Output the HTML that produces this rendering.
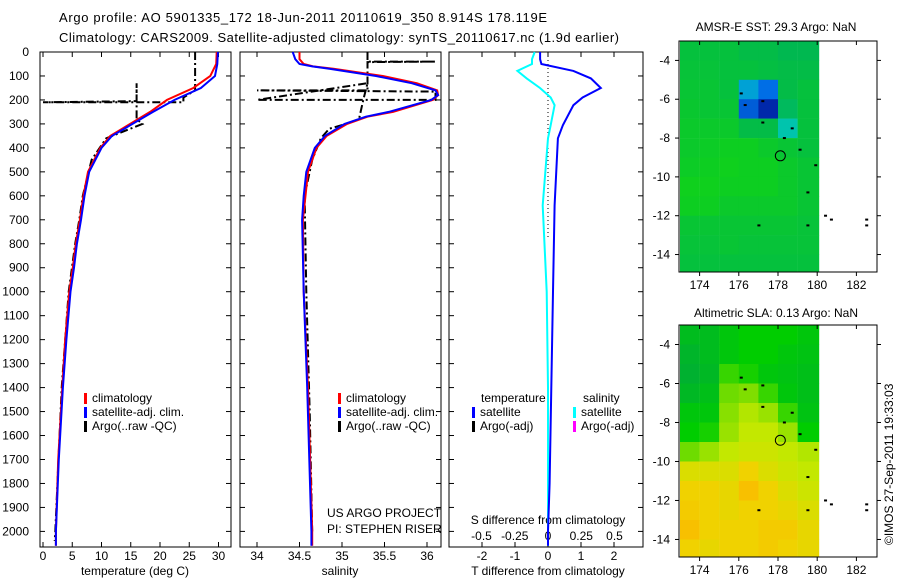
<!DOCTYPE html>
<html><head><meta charset="utf-8"><style>
html,body{margin:0;padding:0;background:#fff}
svg{display:block;font-family:"Liberation Sans",sans-serif}
</style></head><body>
<svg id="chart" width="900" height="580" viewBox="0 0 900 580" xmlns="http://www.w3.org/2000/svg">
<text x="59" y="22" font-size="13" textLength="488">Argo profile: AO 5901335_172 18-Jun-2011 20110619_350 8.914S 178.119E</text>
<text x="59" y="42" font-size="13" textLength="560">Climatology: CARS2009. Satellite-adjusted climatology: synTS_20110617.nc (1.9d earlier)</text>
<text x="776" y="31" font-size="12" text-anchor="middle">AMSR-E SST: 29.3 Argo: NaN</text>
<text x="776" y="317" font-size="12" text-anchor="middle">Altimetric SLA: 0.13 Argo: NaN</text>
<text transform="translate(893,545) rotate(-90)" font-size="12">©IMOS 27-Sep-2011 19:33:03</text>
<text x="135" y="575" font-size="12" text-anchor="middle">temperature (deg C)</text>
<text x="340" y="575" font-size="12" text-anchor="middle">salinity</text>
<text x="548" y="575" font-size="12" text-anchor="middle">T difference from climatology</text>
<text x="548" y="524" font-size="12" text-anchor="middle">S difference from climatology</text>
<text x="327" y="517" font-size="12">US ARGO PROJECT</text>
<text x="327" y="533" font-size="12">PI: STEPHEN RISER</text>
<g id="g"></g>
</svg>
<script>
// ---- profile data ----
const depthT = [0,50,100,150,200,250,300,350,400,500,600,700,800,900,1000,1200,1400,1700,2000,2060];
const tempClim = [29.7,29.6,28.6,25.7,21.2,18.3,14.9,11.5,9.8,7.7,6.9,6.3,5.6,5.1,4.5,3.8,3.3,2.6,2.2,2.2];
const tempSat = [29.9,29.8,29.4,27.0,22.5,18.8,15.3,11.8,10.0,7.9,7.1,6.5,5.8,5.3,4.7,4.0,3.4,2.7,2.2,2.2];
const argoTempDepth = [0,160,190,210,210,205,130,200,280,300,360,450,600,700,800,1000,1400,2000,2040];
const argoTempVal = [26,26,24,24,0,16,16,16,16,17,10.8,8.3,6.8,6.2,5.5,4.4,3.2,2.1,2.0];
const depthS = [0,30,50,60,70,100,130,160,180,200,250,270,300,350,400,500,600,700,1000,1400,2000,2060];
const salClim = [34.5,34.5,34.55,34.66,34.9,35.48,35.88,36.12,36.13,36.07,35.6,35.3,35.06,34.82,34.7,34.6,34.57,34.54,34.55,34.6,34.65,34.65];
const salSat = [34.42,34.45,34.5,34.65,34.85,35.4,35.82,36.1,36.13,36.05,35.55,35.28,35.03,34.8,34.68,34.58,34.55,34.53,34.55,34.59,34.64,34.64];
const argoSalDepth = [0,40,40,42,80,160,160,165,200,200,130,200,280,300,320,360,450,600,1000,1500,2000];
const argoSalVal = [35.3,35.3,36.1,35.3,35.3,35.3,34.0,36.1,36.1,34.0,35.3,35.25,35.2,35.05,34.85,34.75,34.65,34.56,34.58,34.62,34.65];
const depthD = [0,30,50,79,110,150,190,222,305,360,640,1000,1400,1800,2000,2060];
const tDiff = [-0.24,-0.24,-0.2,0.77,1.3,1.6,1.05,0.77,0.45,0.3,0.2,0.15,0.1,0.05,0.0,0.0];
const sDiff = [-0.1,-0.12,-0.12,-0.23,-0.16,-0.06,0.02,0.05,0.02,0.0,-0.04,-0.01,0.0,0.0,0.0,0.0];
const depthTicks = [0,100,200,300,400,500,600,700,800,900,1000,1100,1200,1300,1400,1500,1600,1700,1800,1900,2000];
const tempTicks = [0,5,10,15,20,25,30];
const salTicks = [34,34.5,35,35.5,36];
const salTickLabels = ["34","34.5","35","35.5","36"];
const tdTicks = [-2,-1,0,1,2];
const sdTicks = [-0.5,-0.25,0,0.25,0.5];
const sdTickLabels = ["-0.5","-0.25","0","0.25","0.5"];
// ---- map data (1-degree cells, lon 173..180, lat -3..-15) ----
const mapLons = [173,174,175,176,177,178,179];
const mapLats = [-3,-4,-5,-6,-7,-8,-9,-10,-11,-12,-13,-14];
const sstGrid = [
[0.4,0.4,0.4,0.5,0.5,0.6,0.6],
[0.35,0.35,0.4,0.4,0.45,0.5,0.5],
[0.3,0.3,0.4,1.8,2.2,0.5,0.4],
[0.25,0.3,0.3,2.3,2.6,0.7,0.4],
[0.2,0.2,0.2,0.5,0.5,1.3,0.4],
[0.2,0.15,0.1,0.1,0.2,0.3,0.4],
[0.15,0.1,0.05,0.1,0.1,0.2,0.3],
[0.05,0.05,0.1,0.1,0.1,0.2,0.3],
[0.1,0.1,0.2,0.2,0.2,0.2,0.3],
[0.3,0.3,0.3,0.3,0.3,0.3,0.35],
[0.35,0.35,0.3,0.35,0.35,0.35,0.35],
[0.4,0.4,0.4,0.4,0.4,0.4,0.4]];
const slaGrid = [
[0.5,0.5,0.8,1,1,1,0.8],
[0.3,0.5,0.8,1,1,0.8,0.7],
[0.2,0.4,1.5,1.2,0.8,0.7,0.6],
[0.4,0.6,2,2.2,1.5,0.8,0.6],
[0.8,0.8,2.3,2.8,2.5,1.5,0.7],
[1,1.2,2.5,3,3,2.5,1],
[2,2.5,3,3.2,3.2,3,2.8],
[3.5,3.5,3.5,4,3.5,3.2,3],
[4,4,3.8,4.5,4,3.5,3.2],
[4.2,4,3.8,4,4,3.8,3.5],
[4.5,4,4,4,4.2,4.2,3.8],
[4,3.8,4,4,4.2,4,3.8]];
const islandLon = [176.1,176.3,177.2,177.2,178.3,178.7,179.1,179.9,179.5,177.0,179.5,180.4,180.7,182.5,182.5];
const islandLat = [-5.7,-6.3,-6.1,-7.2,-8.0,-7.5,-8.6,-9.4,-10.8,-12.5,-12.5,-12.0,-12.2,-12.2,-12.5];
const floatLon = [178.119];
const floatLat = [-8.914];
const mapLonTicks = [174,176,178,180,182];
const mapLatTicks = [-4,-6,-8,-10,-12,-14];

const NS="http://www.w3.org/2000/svg";
const G=document.getElementById('g');
function mk(tag,attrs,parent){const e=document.createElementNS(NS,tag);for(const k in attrs)e.setAttribute(k,attrs[k]);(parent||G).appendChild(e);return e;}
const yD=d=>52+d*0.2397;
const xT=t=>43+t*5.85;
const xS=s=>257+(s-34)*85;
const xTD=v=>548+v*33;
const xSD=v=>548+v*133;
const TOP=52,BOT=547;

function frame(x0,x1,name){
  const r=mk('rect',{x:x0,y:TOP,width:x1-x0,height:BOT-TOP,fill:'none',stroke:'#000','stroke-width':1});
  
  
}
function line(xf,yArr,xArr,col,w,dash,name){
  const pts=yArr.map((d,i)=>xf(xArr[i]).toFixed(1)+','+yD(Math.min(d,2060)).toFixed(1)).join(' ');
  const p=mk('polyline',{points:pts,fill:'none',stroke:col,'stroke-width':w});
  if(dash)p.setAttribute('stroke-dasharray',dash);
  
  
}
function xticks(xf,vals,labels,x0,x1,ly,name){
  vals.forEach((v,i)=>{
    const x=xf(v);
    mk('line',{x1:x,x2:x,y1:BOT,y2:BOT-5,stroke:'#000'});
    mk('line',{x1:x,x2:x,y1:TOP,y2:TOP+5,stroke:'#000'});
    const t=mk('text',{x:x,y:ly,'font-size':12,'text-anchor':'middle'});
    t.textContent=labels[i];
    
    
  });
}
function legend(x,y,items,name){
  items.forEach((it,i)=>{
    mk('rect',{x:x,y:y+i*14-9,width:3,height:11,fill:it[1]});
    const t=mk('text',{x:x+8,y:y+i*14,'font-size':12});
    t.textContent=it[0];
    
    
  });
}
// panel 1
frame(40,231,'temperature-panel');
depthTicks.forEach(d=>{
  mk('line',{x1:40,x2:45,y1:yD(d),y2:yD(d),stroke:'#000'});
  mk('line',{x1:231,x2:226,y1:yD(d),y2:yD(d),stroke:'#000'});
  const t=mk('text',{x:29,y:yD(d)+4,'font-size':12,'text-anchor':'end'});
  t.textContent=d;
  
  
});
xticks(xT,tempTicks,tempTicks.map(String),40,231,560,'temperature-tick-label');
line(xT,argoTempDepth,argoTempVal,'#000',2,'8,3,2,3','temp-argo-line');
line(xT,depthT,tempClim,'#ff0000',2,null,'temp-climatology-line');
line(xT,depthT,tempSat,'#0000ff',2,null,'temp-satellite-line');
legend(84,402,[['climatology','#f00'],['satellite-adj. clim.','#00f'],['Argo(..raw -QC)','#000']],'temp-legend-entry');
// panel 2
frame(240,441,'salinity-panel');
depthTicks.forEach(d=>{mk('line',{x1:240,x2:245,y1:yD(d),y2:yD(d),stroke:'#000'});mk('line',{x1:441,x2:436,y1:yD(d),y2:yD(d),stroke:'#000'});});
xticks(xS,salTicks,salTickLabels,240,441,560,'salinity-tick-label');
line(xS,argoSalDepth,argoSalVal,'#000',2,'8,3,2,3','sal-argo-line');
line(xS,depthS,salClim,'#ff0000',2,null,'sal-climatology-line');
line(xS,depthS,salSat,'#0000ff',2,null,'sal-satellite-line');
legend(338,402,[['climatology','#f00'],['satellite-adj. clim.','#00f'],['Argo(..raw -QC)','#000']],'sal-legend-entry');
// panel 3
frame(449,643,'difference-panel');
depthTicks.forEach(d=>{mk('line',{x1:449,x2:454,y1:yD(d),y2:yD(d),stroke:'#000'});mk('line',{x1:643,x2:638,y1:yD(d),y2:yD(d),stroke:'#000'});});
xticks(xTD,tdTicks,tdTicks.map(String),449,643,560,'t-diff-tick-label');
sdTicks.forEach((v,i)=>{const t=mk('text',{x:xSD(v),y:540,'font-size':12,'text-anchor':'middle'});t.textContent=sdTickLabels[i];});
mk('line',{x1:548,x2:548,y1:TOP,y2:yD(780),stroke:'#000','stroke-dasharray':'1,3'});
line(xSD,depthD,sDiff,'#00ffff',2,null,'s-diff-satellite-line');
line(xTD,depthD,tDiff,'#0000ff',2,null,'t-diff-satellite-line');
{const t=mk('text',{x:481,y:402,'font-size':12});t.textContent='temperature';
 const s=mk('text',{x:583,y:402,'font-size':12});s.textContent='salinity';}
legend(472,416,[['satellite','#00f'],['Argo(-adj)','#000']],'t-diff-legend-entry');
legend(573,416,[['satellite','#0ff'],['Argo(-adj)','#f0f']],'s-diff-legend-entry');
// maps
function sstColor(v){const st=[[0,[16,210,24]],[0.6,[0,184,80]],[1.5,[0,200,200]],[2.2,[0,110,230]],[2.6,[0,40,170]]];return interp(st,v);}
function slaColor(v){const st=[[0,[0,170,60]],[1,[0,205,0]],[2,[110,220,0]],[3,[195,232,0]],[4,[240,210,0]],[4.5,[248,192,0]]];return interp(st,v);}
function interp(st,v){for(let i=1;i<st.length;i++){if(v<=st[i][0]||i==st.length-1){const a=st[i-1],b=st[i];let f=(v-a[0])/(b[0]-a[0]);f=Math.max(0,Math.min(1,f));return 'rgb('+a[1].map((c,k)=>Math.round(c+(b[1][k]-c)*f)).join(',')+')';}}}
function map(y0,y1,grid,cf,name){
  const xL=lon=>680+(lon-173)*19.6;
  const yL=lat=>y0+(-3-lat)*(y1-y0)/11.9;
  grid.forEach((row,r)=>row.forEach((v,c)=>{
    const x=xL(mapLons[c]),y=yL(mapLats[r]);
    const cell=mk('rect',{x:x.toFixed(1),y:y.toFixed(1),width:(c==6?xL(180.1)-x:19.8).toFixed(1),height:(r==11?y1-y:(y1-y0)/11.9+0.3).toFixed(1),fill:cf(v)});
    
    
  }));
  const f=mk('rect',{x:679,y:y0,width:198,height:y1-y0,fill:'none',stroke:'#000'});
  
  
  mapLonTicks.forEach(l=>{const x=xL(l);mk('line',{x1:x,x2:x,y1:y1,y2:y1+4,stroke:'#000'});mk('line',{x1:x,x2:x,y1:y0,y2:y0+4,stroke:'#000'});
    const t=mk('text',{x:x,y:y1+17,'font-size':12,'text-anchor':'middle'});t.textContent=l;});
  mapLatTicks.forEach(l=>{const y=yL(l);mk('line',{x1:675,x2:679,y1:y,y2:y,stroke:'#000'});mk('line',{x1:877,x2:881,y1:y,y2:y,stroke:'#000'});
    const t=mk('text',{x:670,y:y+4,'font-size':12,'text-anchor':'end'});t.textContent=l;});
  islandLon.forEach((lo,i)=>{const d=mk('rect',{x:xL(lo)-1,y:yL(islandLat[i])-1,width:3,height:2,fill:'#000'});});
  floatLon.forEach((lo,i)=>{const c=mk('circle',{cx:xL(lo),cy:yL(floatLat[i]),r:5,fill:'none',stroke:'#000'});});
}
map(41,272,sstGrid,sstColor,'sst-map');
map(325,557,slaGrid,slaColor,'sla-map');
</script>
</body></html>
